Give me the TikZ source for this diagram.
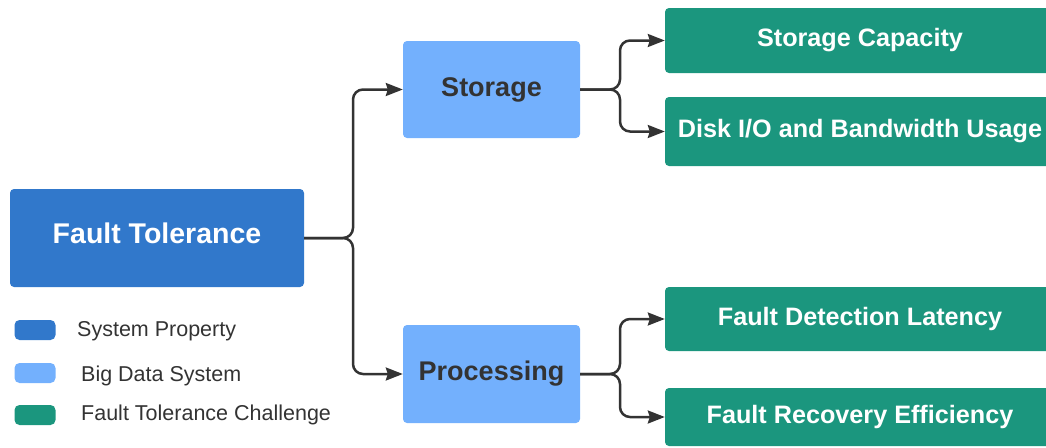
\documentclass[tikz,border=0pt]{standalone}
\usepackage{fontspec}
\setmainfont{Liberation Sans}
\usetikzlibrary{arrows.meta}
\definecolor{propblue}{HTML}{3178CB}
\definecolor{sysblue}{HTML}{73B0FD}
\definecolor{chgreen}{HTML}{1B967E}
\definecolor{txtdark}{HTML}{333333}
\tikzset{
  box/.style={rounded corners=4pt, inner sep=0pt, align=center, font=\bfseries},
  propbox/.style={box, fill=propblue, text=white},
  sysbox/.style={box, fill=sysblue, text=txtdark},
  chbox/.style={box, fill=chgreen, text=white},
  conn/.style={draw=txtdark, line width=2.5pt, rounded corners=10pt, -{Stealth[length=17pt,width=13pt,inset=2pt]}},
  swatch/.style={rounded corners=5pt, inner sep=0pt, minimum width=41pt, minimum height=20pt},
  legtext/.style={anchor=west, inner sep=0pt, text=txtdark, font=\fontsize{21.5}{24}\selectfont}
}
\begin{document}
\begin{tikzpicture}[x=1pt,y=-1pt]
\useasboundingbox (0,0) rectangle (1046,447);
\clip (0,0) rectangle (1046,447);
% main nodes
\node[propbox, minimum width=294pt, minimum height=98pt, text depth=9pt, font=\bfseries\fontsize{28.5}{32}\selectfont] (ft) at (157,238) {Fault Tolerance};
\node[sysbox, minimum width=177pt, minimum height=97pt, font=\bfseries\fontsize{27}{30}\selectfont] (st) at (491.5,89.5) {Storage};
\node[sysbox, minimum width=177pt, minimum height=98pt, font=\bfseries\fontsize{27}{30}\selectfont] (pr) at (491.5,374) {Processing};
\node[chbox, minimum width=390pt, minimum height=65pt, font=\bfseries\fontsize{25.2}{28}\selectfont] (sc) at (860,40.5) {Storage Capacity};
\node[chbox, minimum width=390pt, minimum height=69pt, font=\bfseries\fontsize{25.2}{28}\selectfont] (dk) at (860,131.5) {Disk I/O and Bandwidth Usage};
\node[chbox, minimum width=390pt, minimum height=64pt, font=\bfseries\fontsize{25.2}{28}\selectfont] (fd) at (860,319) {Fault Detection Latency};
\node[chbox, minimum width=390pt, minimum height=58pt, font=\bfseries\fontsize{25.2}{28}\selectfont] (fr) at (860,417) {Fault Recovery Efficiency};
% junction coordinates
\coordinate (j1) at (353,238);
\coordinate (j2) at (620,89.5);
\coordinate (j3) at (620,374);
% connectors
\draw[conn] (ft.east) -- (j1) |- (st.west);
\draw[conn] (ft.east) -- (j1) |- (pr.west);
\draw[conn] (st.east) -- (j2) |- (sc.west);
\draw[conn] (st.east) -- (j2) |- (dk.west);
\draw[conn] (pr.east) -- (j3) |- (fd.west);
\draw[conn] (pr.east) -- (j3) |- (fr.west);
% legend
\node[swatch, fill=propblue] (l1) at (35,330) {};
\node[swatch, fill=sysblue] (l2) at (35,373) {};
\node[swatch, fill=chgreen] (l3) at (35,415) {};
\node[legtext] (t1) at (77,331) {System Property};
\node[legtext] (t2) at (81,376) {Big Data System};
\node[legtext] (t3) at (81,415) {Fault Tolerance Challenge};
\end{tikzpicture}
\end{document}
